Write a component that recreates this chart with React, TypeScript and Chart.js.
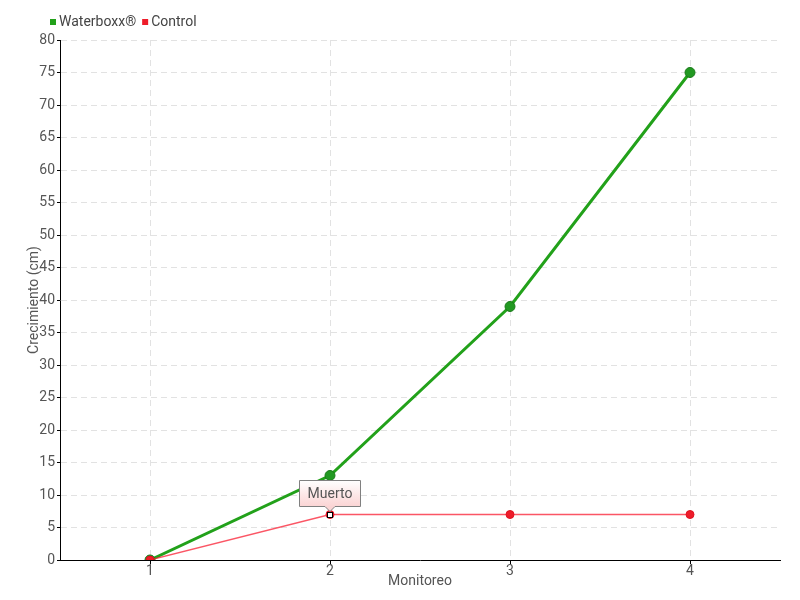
import React, { useEffect, useRef } from "react";
import { Chart, registerables } from "chart.js";

Chart.register(...registerables);

// ---- data ----
const monitoreo = [1, 2, 3, 4];
const waterboxx = [0, 13, 39, 75];
const control = [0, 7, 7, 7];
const seriesNames = ["Waterboxx®", "Control"];
const deadIndex = 1;
const deadLabel = "Muerto";
const yMin = 0;
const yMax = 80;
const yStep = 5;
const xTitle = "Monitoreo";
const yTitle = "Crecimiento (cm)";

const FONT = 'Roboto, "DejaVu Sans", sans-serif';
const GREEN = "#22a11a";
const RED = "#ee1c2a";

const overlayPlugin = {
  id: "overlay",
  afterDraw(chart: any) {
    const ctx = chart.ctx as CanvasRenderingContext2D;
    ctx.save();
    // legend
    ctx.font = `14px ${FONT}`;
    ctx.textBaseline = "middle";
    ctx.textAlign = "left";
    const items = [
      { name: seriesNames[0], color: GREEN },
      { name: seriesNames[1], color: RED },
    ];
    let x = 50;
    const y = 22;
    for (const it of items) {
      ctx.fillStyle = it.color;
      ctx.fillRect(x, y - 3, 6, 6);
      ctx.fillStyle = "#444";
      ctx.fillText(it.name, x + 9, y);
      x += 9 + ctx.measureText(it.name).width + 6;
    }

    // dead marker + label
    const idx = chart.data.datasets.findIndex((d: any) => d.label === seriesNames[1]);
    const meta = chart.getDatasetMeta(idx);
    const pt = meta.data[deadIndex];
    if (pt) {
      const px = Math.round(pt.x);
      const py = Math.round(pt.y);
      ctx.fillStyle = "#fff";
      ctx.strokeStyle = "#000";
      ctx.lineWidth = 1;
      ctx.fillRect(px - 2, py - 2, 5, 5);
      ctx.strokeRect(px - 2.5, py - 2.5, 5, 5);

      ctx.font = `14px ${FONT}`;
      const tw = ctx.measureText(deadLabel).width;
      const bw = Math.round(tw + 16);
      const bh = 26;
      const bx = px - Math.round(bw / 2) + 0.5;
      const bBottom = py - 9 + 0.5;
      const by = bBottom - bh;
      const grad = ctx.createLinearGradient(0, by, 0, bBottom);
      grad.addColorStop(0, "#ffffff");
      grad.addColorStop(1, "#fbd4d4");
      ctx.beginPath();
      ctx.moveTo(bx, by);
      ctx.lineTo(bx + bw, by);
      ctx.lineTo(bx + bw, bBottom);
      ctx.lineTo(px + 5, bBottom);
      ctx.lineTo(px, bBottom + 5);
      ctx.lineTo(px - 5, bBottom);
      ctx.lineTo(bx, bBottom);
      ctx.closePath();
      ctx.fillStyle = grad;
      ctx.fill();
      ctx.strokeStyle = "#808080";
      ctx.stroke();
      ctx.fillStyle = "#555";
      ctx.textAlign = "center";
      ctx.textBaseline = "middle";
      ctx.fillText(deadLabel, px, by + bh / 2 + 1);
    }
    ctx.restore();
  },
};

export default function App() {
  const ref = useRef<HTMLCanvasElement | null>(null);
  useEffect(() => {
    if (!ref.current) return;
    const tickFont = { family: FONT, size: 14 };
    const chart = new Chart(ref.current, {
      type: "line",
      data: {
        datasets: [
          {
            label: seriesNames[0],
            data: monitoreo.map((m, i) => ({ x: m, y: waterboxx[i] })),
            borderColor: GREEN,
            backgroundColor: "#229922",
            pointBorderColor: "#1a7a1a",
            pointBackgroundColor: "#229922",
            borderWidth: 3,
            pointRadius: 5,
            pointBorderWidth: 1,
            order: 1,
          },
          {
            label: seriesNames[1],
            data: monitoreo.map((m, i) => ({ x: m, y: control[i] })),
            borderColor: "rgba(250,30,50,0.75)",
            backgroundColor: RED,
            pointBackgroundColor: RED,
            pointBorderColor: "#e01020",
            borderWidth: 1.3,
            pointRadius: 4,
            pointBorderWidth: 1,
            order: 0,
          },
        ],
      },
      options: {
        animation: false,
        responsive: false,
        layout: { padding: { top: 40, right: 20, left: 0, bottom: 0 } },
        plugins: {
          legend: { display: false },
          tooltip: { enabled: false },
        },
        scales: {
          x: {
            type: "linear",
            min: 0.5,
            max: 4.5,
            afterBuildTicks: (s: any) => {
              s.ticks = monitoreo.map((v) => ({ value: v }));
            },
            afterFit: (s: any) => {
              s.height = 40;
            },
            grid: { color: "#e2e2e2", tickColor: "#000", tickLength: 4 },
            border: { color: "#000", width: 1, dash: [6, 4] },
            ticks: {
              font: tickFont,
              color: "#555",
              padding: -1,
              autoSkip: false,
              maxRotation: 0,
              callback: (v: any) => String(v),
            },
            title: {
              display: true,
              text: xTitle,
              font: tickFont,
              color: "#555",
              padding: { top: 0, bottom: 10 },
            },
          },
          y: {
            min: yMin,
            max: yMax,
            afterFit: (s: any) => {
              s.width = 60;
            },
            grid: { color: "#e2e2e2", tickColor: "#000", tickLength: 3 },
            border: { color: "#000", width: 1, dash: [6, 4] },
            ticks: {
              stepSize: yStep,
              font: tickFont,
              color: "#555",
              padding: 2,
            },
            title: {
              display: true,
              text: yTitle,
              font: tickFont,
              color: "#555",
              padding: { top: 26, bottom: 0 },
            },
          },
        },
      },
      plugins: [overlayPlugin],
    } as any);
    return () => chart.destroy();
  }, []);
  return (
    <div style={{ position: "absolute", left: 0, top: 0, width: 800, height: 600 }}>
      <canvas ref={ref} width={800} height={600} style={{ display: "block" }} />
    </div>
  );
}
